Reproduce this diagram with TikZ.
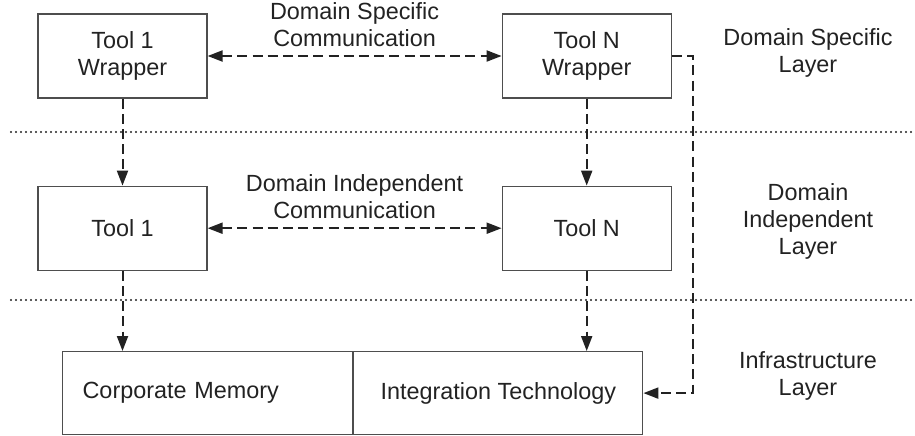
\documentclass[tikz,border=0pt]{standalone}
\usepackage{fontspec}
\setmainfont{Liberation Sans}
\usepackage{tikz}
\usetikzlibrary{arrows.meta, positioning}
\definecolor{InkGray}{HTML}{222222}

\begin{document}
\begin{tikzpicture}[
    every node/.style={font=\fontsize{11.7}{13.5}\selectfont, text=InkGray},
    tool/.style={
      draw=InkGray!80, line width=0.6pt,
      minimum width=84.5pt, minimum height=42pt,
      align=center, inner sep=2pt
    },
    infra/.style={
      draw=InkGray!80, line width=0.6pt,
      minimum width=145pt, minimum height=41.5pt, inner sep=0pt
    },
    link/.style={
      draw=InkGray, line width=1pt, dash pattern=on 5pt off 2.6pt,
      -{Triangle[length=7.5pt, width=5.5pt]}
    },
    both/.style={link, {Triangle[length=7.5pt, width=5.5pt]}-{Triangle[length=7.5pt, width=5.5pt]}},
    sep/.style={draw=InkGray, line width=1.1pt, line cap=round, dash pattern=on 0pt off 2.5pt},
    comm/.style={above, inner sep=0pt, yshift=4pt, align=center},
    layer/.style={align=center}
  ]
    \useasboundingbox (0pt,0pt) rectangle (457.5pt,-217.5pt);

    % boxes
    \node[tool] (w1) at (61.25pt,-28pt) {Tool 1\\Wrapper};
    \node[tool, right=147pt of w1] (wn) {Tool N\\Wrapper};
    \node[tool, below=43.5pt of w1] (t1) {Tool 1};
    \node[tool, below=43.5pt of wn] (tn) {Tool N};
    \node[infra, anchor=north west, text width=125pt, align=left, inner xsep=10pt] (mem) at (31pt,-175.5pt) {Corporate Memory};
    \node[infra, right=0pt of mem, minimum width=144.5pt, align=center] (integ) {Integration Technology};

    % layer separators
    \draw[sep] (5.5pt,-66pt) -- (457.5pt,-66pt);
    \draw[sep] (5.5pt,-150pt) -- (457.5pt,-150pt);

    % layer names
    \node[layer] (lds) at (404pt,-26.5pt) {Domain Specific\\Layer};
    \node[layer] (ldi) at (404pt,-110.5pt) {Domain\\Independent\\Layer};
    \node[layer] (lin) at (404pt,-187.75pt) {Infrastructure\\Layer};

    % connectors
    \draw[both] (w1) -- node[comm] {Domain Specific\\Communication} (wn);
    \draw[both] (t1) -- node[comm] {Domain Independent\\Communication} (tn);
    \draw[link] (w1) -- (t1);
    \draw[link] (wn) -- (tn);
    \draw[link] (t1.south) -- (t1.south |- mem.north);
    \draw[link] (tn.south) -- (tn.south |- integ.north);
    \draw[link] (wn.east) -- ++(10.5pt,0) |- (integ.east);
  \end{tikzpicture}
\end{document}
